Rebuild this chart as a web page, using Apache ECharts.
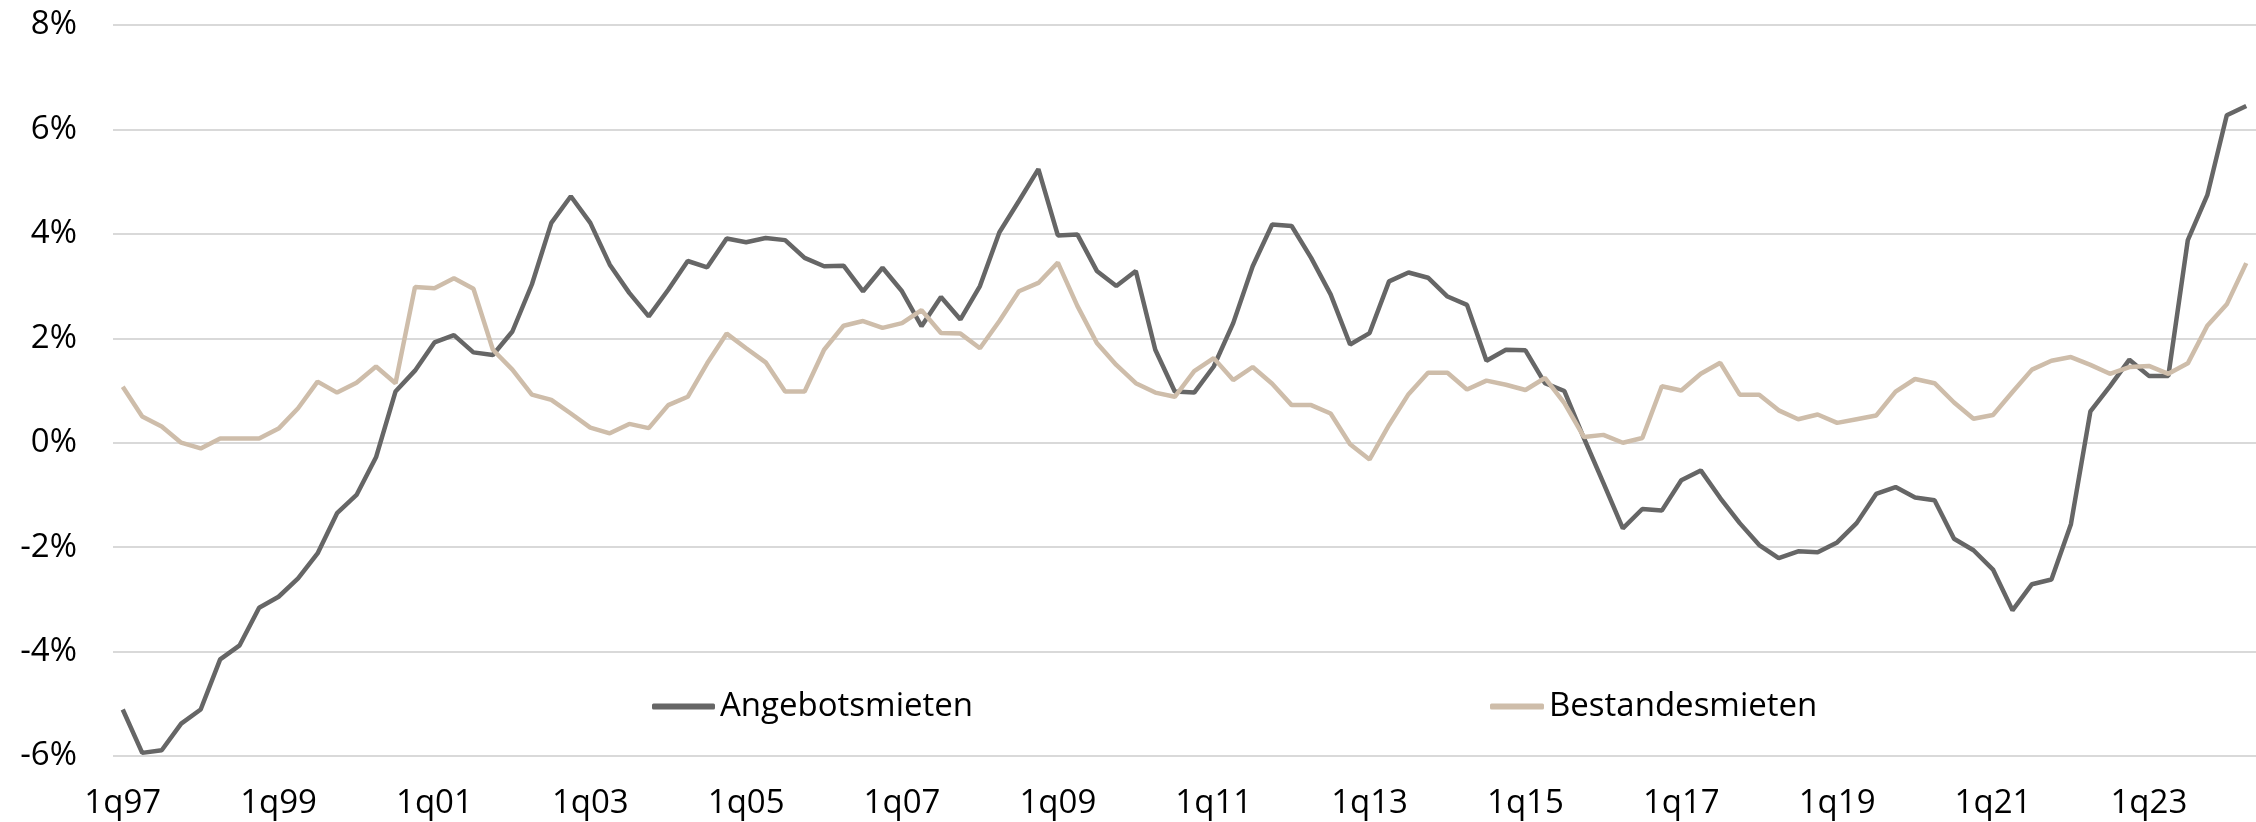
<!DOCTYPE html>
<html>
<head>
<meta charset="utf-8">
<title>Angebotsmieten vs. Bestandesmieten</title>
<script src="https://cdn.jsdelivr.net/npm/echarts@6/dist/echarts.min.js"></script>
<style>
  html, body { margin: 0; padding: 0; background: #fff; }
  #chart { width: 2256px; height: 822px; }
</style>
</head>
<body>
<div id="chart"></div>
<script>
// quarterly, 1q97 .. 2q24
const firstYear = 1997
const quarterCount = 110

const angebotsmieten = [
  -5.11, -5.94, -5.89, -5.38, -5.11, -4.15, -3.88, -3.16, -2.95, -2.60,
  -2.12, -1.35, -1.00, -0.28, 0.98, 1.38, 1.92, 2.06, 1.73, 1.68,
  2.13, 3.03, 4.21, 4.72, 4.21, 3.41, 2.87, 2.42, 2.93, 3.48,
  3.36, 3.91, 3.84, 3.92, 3.88, 3.54, 3.38, 3.39, 2.90, 3.35,
  2.90, 2.23, 2.79, 2.36, 3.00, 4.03, 4.63, 5.24, 3.97, 3.99,
  3.29, 3.00, 3.29, 1.78, 0.98, 0.96, 1.46, 2.29, 3.38, 4.18,
  4.15, 3.54, 2.84, 1.88, 2.10, 3.09, 3.26, 3.16, 2.80, 2.64,
  1.57, 1.78, 1.77, 1.14, 0.99, 0.09, -0.77, -1.64, -1.27, -1.30,
  -0.72, -0.53, -1.06, -1.54, -1.96, -2.21, -2.08, -2.10, -1.91, -1.54,
  -0.98, -0.85, -1.05, -1.10, -1.84, -2.06, -2.43, -3.21, -2.71, -2.62,
  -1.56, 0.60, 1.08, 1.59, 1.28, 1.28, 3.88, 4.74, 6.27, 6.45
]

const bestandesmieten = [
  1.07, 0.50, 0.31, 0.00, -0.11, 0.08, 0.08, 0.08, 0.27, 0.66,
  1.17, 0.96, 1.15, 1.46, 1.14, 2.98, 2.96, 3.15, 2.95, 1.78,
  1.40, 0.92, 0.82, 0.56, 0.29, 0.18, 0.36, 0.28, 0.72, 0.88,
  1.52, 2.09, 1.81, 1.54, 0.98, 0.98, 1.78, 2.24, 2.33, 2.20,
  2.29, 2.54, 2.10, 2.09, 1.81, 2.33, 2.90, 3.06, 3.45, 2.62,
  1.91, 1.49, 1.14, 0.96, 0.88, 1.37, 1.62, 1.20, 1.45, 1.13,
  0.72, 0.72, 0.56, -0.03, -0.32, 0.34, 0.93, 1.34, 1.34, 1.02,
  1.19, 1.11, 1.01, 1.24, 0.76, 0.11, 0.15, 0.00, 0.09, 1.08,
  1.00, 1.32, 1.53, 0.92, 0.92, 0.62, 0.45, 0.54, 0.38, 0.45,
  0.52, 0.98, 1.22, 1.14, 0.77, 0.46, 0.53, 0.97, 1.40, 1.57,
  1.64, 1.49, 1.32, 1.45, 1.47, 1.32, 1.52, 2.24, 2.65, 3.44
]

const yTicks = [-6, -4, -2, 0, 2, 4, 6, 8]

const quarters = []
for (let i = 0; i < quarterCount; i++) {
  const year = firstYear + Math.floor(i / 4)
  quarters.push((i % 4 + 1) + 'q' + String(year % 100).padStart(2, '0'))
}

const font = '"Open Sans", "Noto Sans", sans-serif'
const textStyle = { fontFamily: font, fontSize: 33, color: '#000' }

const chart = echarts.init(document.getElementById('chart'))

chart.setOption({
  animation: false,
  grid: {
    left: 113,
    right: 0,
    top: 25,
    bottom: 66,
    containLabel: false
  },
  legend: [{
    data: ['Angebotsmieten'],
    left: 652,
    top: 690,
    padding: 0,
    icon: 'roundRect',
    itemWidth: 63,
    itemHeight: 6,
    textStyle: textStyle
  }, {
    data: ['Bestandesmieten'],
    left: 1490,
    top: 690,
    padding: 0,
    icon: 'roundRect',
    itemWidth: 54,
    itemHeight: 6,
    textStyle: textStyle
  }],
  xAxis: {
    type: 'category',
    data: quarters,
    boundaryGap: true,
    axisLine: { show: false },
    axisTick: { show: false },
    axisLabel: Object.assign({ interval: 7, margin: 31 }, textStyle)
  },
  yAxis: {
    type: 'value',
    min: yTicks[0],
    max: yTicks[yTicks.length - 1],
    interval: 2,
    axisLine: { show: false },
    axisTick: { show: false },
    axisLabel: Object.assign({ margin: 36, formatter: v => v + '%' }, textStyle),
    splitLine: { lineStyle: { color: '#d9d9d9', width: 2 } }
  },
  series: [{
    name: 'Angebotsmieten',
    type: 'line',
    data: angebotsmieten,
    symbol: 'none',
    lineStyle: { color: '#666666', width: 4.5 },
    itemStyle: { color: '#666666' }
  }, {
    name: 'Bestandesmieten',
    type: 'line',
    data: bestandesmieten,
    symbol: 'none',
    lineStyle: { color: '#cebdaa', width: 4.5 },
    itemStyle: { color: '#cebdaa' }
  }]
})
</script>
</body>
</html>
